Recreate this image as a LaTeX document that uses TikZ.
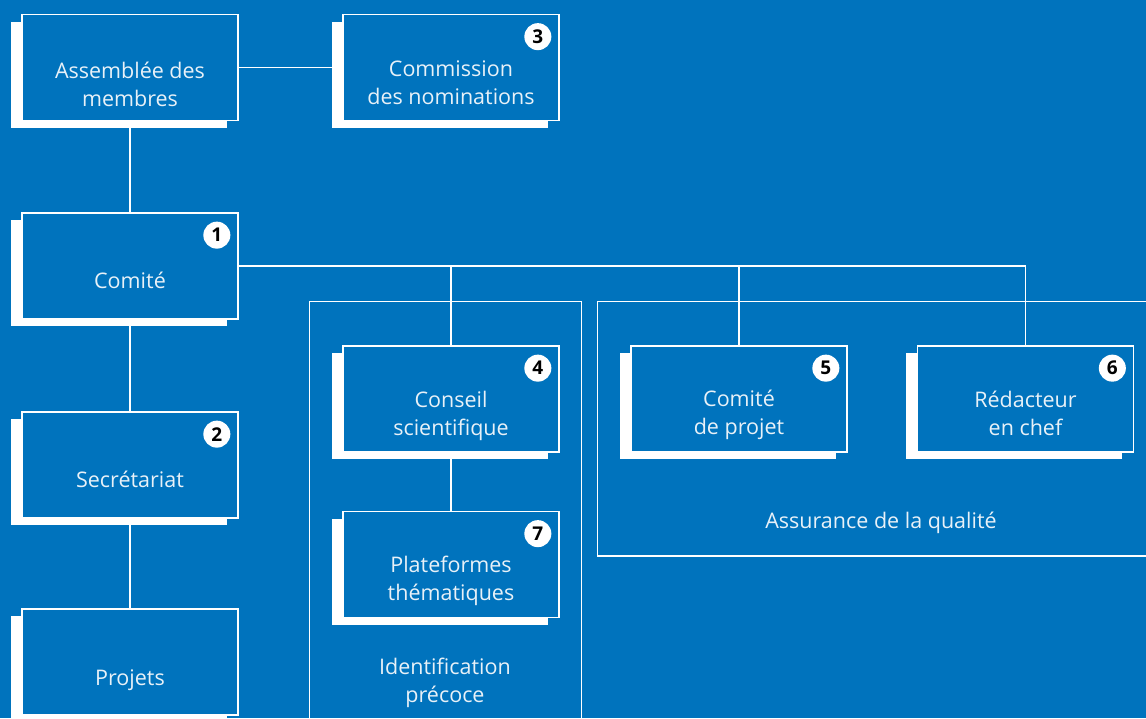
\documentclass[tikz,border=0pt]{standalone}
\usepackage{fontspec}
\setmainfont{Open Sans}
\usetikzlibrary{shadows}

\definecolor{bgblue}{HTML}{0073BD}
\definecolor{txtwhite}{HTML}{E8F1F8}

\tikzset{
  unit/.style={draw=white,line width=1.7pt,fill=bgblue,minimum width=216pt,
    minimum height=106pt,inner sep=0pt,
    general shadow={fill=white,shadow xshift=-11.5pt,shadow yshift=-7pt}},
  unittext/.style={text=txtwhite,align=center,font=\fontsize{21.5}{28}\selectfont},
  badge/.style={circle,fill=white,minimum size=27pt,inner sep=0pt,
    font=\fontsize{19}{19}\selectfont\bfseries},
  area/.style={draw=white,line width=1.7pt},
  link/.style={draw=white,line width=1.7pt}
}

\begin{document}
\begin{tikzpicture}[x=1pt,y=-1pt]
  \fill[bgblue] (0,0) rectangle (1146,718);
  \useasboundingbox (0,0) rectangle (1146,718);

  % groupes
  \draw[area] (309.5,301.5) rectangle (581.5,740);
  \draw[area] (597.5,301.5) rectangle (1160,556);
  \node[unittext] (identif) at (445,683) {Identification\\précoce};
  \node[unittext] (assurance) at (881,523) {Assurance de la qualité};

  % organes
  \node[unit,label={[unittext,yshift=-17pt]center:Assemblée des\\membres}]
    (assemblee) at (130,67.5) {};
  \node[unit,label={[unittext,yshift=-15pt]center:Commission\\des nominations}]
    (commission) at (451,67.5) {};
  \node[unit,label={[unittext,yshift=-14pt]center:Comité}]
    (comite) at (130,266) {};
  \node[unit,label={[unittext,yshift=-14pt]center:Secrétariat}]
    (secretariat) at (130,465) {};
  \node[unit,label={[unittext,yshift=-18pt]center:Projets}]
    (projets) at (130,662) {};
  \node[unit,label={[unittext,yshift=-17pt]center:Conseil\\scientifique}]
    (conseil) at (451,399) {};
  \node[unit,label={[unittext,yshift=-16pt]center:Plateformes\\thématiques}]
    (plateformes) at (451,564.5) {};
  \node[unit,label={[unittext,yshift=-16pt]center:Comité\\de projet}]
    (comiteprojet) at (739,399) {};
  \node[unit,label={[unittext,yshift=-14pt]center:Rédacteur\\en chef}]
    (redacteur) at (1025.5,399) {};

  % liaisons
  \draw[link] (assemblee) -- (commission);
  \draw[link] (assemblee) -- (comite);
  \draw[link] (comite) -- (secretariat);
  \draw[link] (secretariat) -- (projets);
  \draw[link] (comite.east) -| (conseil.north);
  \draw[link] (comite.east) -| (comiteprojet.north);
  \draw[link] (comite.east) -| (redacteur.north);
  \draw[link] (conseil) -- (plateformes);

  % numeros
  \node[badge] (b1) at ([xshift=-22pt,yshift=-23pt]comite.north east) {1};
  \node[badge] (b2) at ([xshift=-22pt,yshift=-23pt]secretariat.north east) {2};
  \node[badge] (b3) at ([xshift=-22pt,yshift=-23pt]commission.north east) {3};
  \node[badge] (b4) at ([xshift=-22pt,yshift=-23pt]conseil.north east) {4};
  \node[badge] (b5) at ([xshift=-22pt,yshift=-23pt]comiteprojet.north east) {5};
  \node[badge] (b6) at ([xshift=-22pt,yshift=-23pt]redacteur.north east) {6};
  \node[badge] (b7) at ([xshift=-22pt,yshift=-23pt]plateformes.north east) {7};
\end{tikzpicture}
\end{document}
